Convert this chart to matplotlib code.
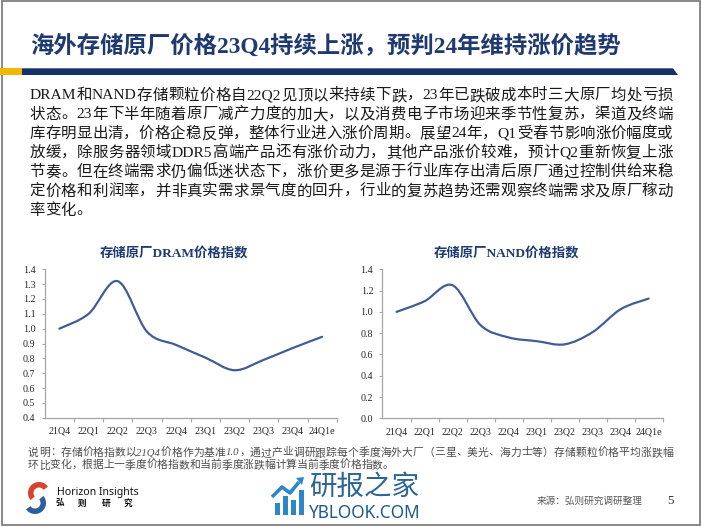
import re
import numpy as np
import matplotlib
matplotlib.use('Agg')
import matplotlib.pyplot as plt
from matplotlib.path import Path
from matplotlib.patches import PathPatch, Rectangle, Polygon, Wedge

# ---------------- data ----------------
categories = ['21Q4', '22Q1', '22Q2', '22Q3', '22Q4', '23Q1', '23Q2', '23Q3', '23Q4', '24Q1e']
dram_index = [1.00, 1.10, 1.32, 0.98, 0.89, 0.805, 0.72, 0.79, 0.87, 0.945]
nand_index = [1.00, 1.10, 1.25, 0.875, 0.76, 0.725, 0.695, 0.81, 1.025, 1.125]
dram_yticks = [0.4, 0.5, 0.6, 0.7, 0.8, 0.9, 1.0, 1.1, 1.2, 1.3, 1.4]
nand_yticks = [0.0, 0.2, 0.4, 0.6, 0.8, 1.0, 1.2, 1.4]

title_text = '海外存储原厂价格23Q4持续上涨，预判24年维持涨价趋势'
paragraph_lines = [
    'DRAM和NAND存储颗粒价格自22Q2见顶以来持续下跌，23年已跌破成本时三大原厂均处亏损',
    '状态。23年下半年随着原厂减产力度的加大，以及消费电子市场迎来季节性复苏，渠道及终端',
    '库存明显出清，价格企稳反弹，整体行业进入涨价周期。展望24年，Q1受春节影响涨价幅度或',
    '放缓，除服务器领域DDR5高端产品还有涨价动力，其他产品涨价较难，预计Q2重新恢复上涨',
    '节奏。但在终端需求仍偏低迷状态下，涨价更多是源于行业库存出清后原厂通过控制供给来稳',
    '定价格和利润率，并非真实需求景气度的回升，行业的复苏趋势还需观察终端需求及原厂稼动',
    '率变化。',
]
dram_title = '存储原厂DRAM价格指数'
nand_title = '存储原厂NAND价格指数'
footnote_lines = [
    '说明：存储价格指数以21Q4价格作为基准1.0，通过产业调研跟踪每个季度海外大厂（三星、美光、海力士等）存储颗粒价格平均涨跌幅',
    '环比变化，根据上一季度价格指数和当前季度涨跌幅计算当前季度价格指数。',
]
source_text = '来源：弘则研究调研整理'
page_number = '5'
logo_en = 'Horizon Insights'
logo_cn = ['弘', '则', '研', '究']
wm_cn = '研报之家'
wm_en = 'YBLOOK.COM'

# ---------------- style ----------------
W, H = 702, 527
SERIF = ['Liberation Serif', 'Noto Sans CJK SC']
SANS = ['Noto Sans CJK SC', 'DejaVu Sans']
NAVY = '#1F3A70'
LINE = '#405D95'
SPINE = '#A6A6A6'

fig = plt.figure(figsize=(W / 100, H / 100), dpi=100)
fig.patch.set_facecolor('white')
bg = fig.add_axes([0, 0, 1, 1])
bg.set_xlim(0, W)
bg.set_ylim(H, 0)
bg.axis('off')
renderer = fig.canvas.get_renderer()


def text_width(s, fs, **kw):
    t = bg.text(0, 0, s, fontsize=fs, **kw)
    w = t.get_window_extent(renderer).width
    t.remove()
    return w


def fit_size(s, target, fs0=10, **kw):
    return fs0 * target / text_width(s, fs0, **kw)


def place_line(s, x0, x1, y, fs, justify=True, **kw):
    tokens = re.findall(r'[A-Za-z0-9.]+|.', s)
    objs = [bg.text(0, y, t, fontsize=fs, va='center', ha='left', **kw) for t in tokens]
    widths = [o.get_window_extent(renderer).width for o in objs]
    gap = (x1 - x0 - sum(widths)) / (len(tokens) - 1) if (justify and len(tokens) > 1) else 0
    x = x0
    for o, w in zip(objs, widths):
        o.set_x(x)
        x += w + gap


# frame
bg.add_patch(Rectangle((1.5, 1.0), W - 4, H - 3, fill=False, edgecolor='#7F7F7F', lw=1.3))

# title + bar
tfs = fit_size(title_text, 590, 17, family=SERIF, weight='bold')
bg.text(30, 47, title_text, fontsize=tfs, family=SERIF, weight='bold', color=NAVY,
        va='center', ha='left')
bg.add_patch(Rectangle((0, 68.3), 22, 6.7, color='#F2B705', lw=0))
bg.add_patch(Polygon([(22, 68.3), (673, 68.3), (678, 75), (22, 75)], closed=True,
                     color='#16306A', lw=0))

# paragraph (justified)
pfs = min(fit_size(l, 643, 11, family=SERIF) for l in paragraph_lines[:-1]) * 0.99
for i, line in enumerate(paragraph_lines):
    place_line(line, 29.5, 673, 95.5 + 19.2 * i, pfs, justify=(i < len(paragraph_lines) - 1),
               family=SERIF, color='#1A1A1A')


# ---------------- charts ----------------
def smooth_path(xs, ys):
    pts = np.column_stack([xs, ys]).astype(float)
    n = len(pts)
    verts = [pts[0]]
    codes = [Path.MOVETO]
    for i in range(n - 1):
        p0 = pts[i - 1] if i > 0 else pts[i]
        p1 = pts[i]
        p2 = pts[i + 1]
        p3 = pts[i + 2] if i + 2 < n else pts[i + 1]
        c1 = p1 + (p2 - p0) / 6.0
        c2 = p2 - (p3 - p1) / 6.0
        verts += [c1, c2, p2]
        codes += [Path.CURVE4] * 3
    return Path(verts, codes)


def make_chart(x0, x1, ytop, ybot, values, yticks, ylim, title, title_x):
    ax = fig.add_axes([x0 / W, 1 - ybot / H, (x1 - x0) / W, (ybot - ytop) / H])
    ax.patch.set_alpha(0)
    xs = np.arange(len(categories))
    ax.add_patch(PathPatch(smooth_path(xs, values), fill=False, edgecolor=LINE, lw=1.6,
                           capstyle='round', joinstyle='round'))
    ax.set_xlim(-0.5, len(categories) - 0.5)
    ax.set_ylim(*ylim)
    ax.set_yticks(yticks)
    ax.set_yticklabels([f'{v:.1f}' for v in yticks])
    ax.set_xticks(np.arange(0.5, len(categories), 1.0))
    ax.set_xticklabels([])
    ax.set_xticks(xs, minor=True)
    ax.set_xticklabels(categories, minor=True)
    ax.tick_params(axis='x', which='minor', length=0, pad=6.3, labelsize=7.2,
                   labelcolor='#262626')
    ax.tick_params(axis='x', which='major', length=3, width=0.8, color=SPINE, direction='out')
    ax.tick_params(axis='y', length=2.5, width=0.8, color=SPINE, pad=4.2, labelsize=7.2,
                   labelcolor='#262626', direction='out')
    for lab in ax.get_xticklabels(minor=True) + ax.get_yticklabels():
        lab.set_family(SERIF)
    for s in ['top', 'right']:
        ax.spines[s].set_visible(False)
    for s in ['left', 'bottom']:
        ax.spines[s].set_color(SPINE)
        ax.spines[s].set_linewidth(0.9)
    bg.text(title_x, 253, title, fontsize=9.6, family=SERIF, weight='bold', color=NAVY,
            ha='center', va='center')
    return ax


make_chart(44.8, 336.7, 269.3, 417.7, dram_index, dram_yticks, (0.4, 1.4), dram_title, 174)
make_chart(382.5, 662.7, 269.3, 418.3, nand_index, nand_yticks, (0.0, 1.4), nand_title, 506)

# ---------------- footnote ----------------
ffs = fit_size(footnote_lines[0], 645, 8, family=SERIF, style='italic')
place_line(footnote_lines[0], 28, 673, 452.7, ffs, justify=True, family=SERIF,
           style='italic', color='#4D4D4D')
place_line(footnote_lines[1], 28, 673, 465.2, ffs, justify=False, family=SERIF,
           style='italic', color='#4D4D4D')

# ---------------- logo (bottom left) ----------------
bg.add_patch(Wedge((39, 493), 11, 140, 325, width=5.5, color='#D8432A', lw=0))
bg.add_patch(Wedge((35, 503), 11, -40, 145, width=5.5, color='#2D5E9E', lw=0))
bg.text(57, 492, logo_en, fontsize=7.6, family=['Noto Sans', 'DejaVu Sans'], weight='bold',
        color='#111111', ha='left', va='center')
for ch, xx in zip(logo_cn, [60, 82, 106, 128]):
    bg.text(xx, 503, ch, fontsize=6.2, family=SANS, weight='bold', color='#111111',
            ha='center', va='center')

# ---------------- watermark ----------------
WM = '#2E86C8'
for bx, btop in zip([274.5, 282.5, 290.5, 298.5], [503, 496, 500, 490]):
    bg.add_patch(Rectangle((bx, btop), 5, 515 - btop, color=WM, lw=0))
bg.plot([272, 282, 290, 299], [497, 487, 493, 482], color=WM, lw=2.6,
        solid_capstyle='butt')
bg.add_patch(Polygon([(296, 478), (304, 477), (302, 485)], closed=True, color=WM, lw=0))
wfs = fit_size(wm_cn, 110, 18, family=SANS)
bg.text(309, 487, wm_cn, fontsize=wfs, family=SANS, color='#2B6496', ha='left',
        va='center')
efs = fit_size(wm_en, 112, 11, family=['Noto Sans', 'DejaVu Sans'])
bg.text(309, 513, wm_en, fontsize=efs, family=['Noto Sans', 'DejaVu Sans'], color='#1F5A8C',
        ha='left', va='center')

# ---------------- source ----------------
sfs = fit_size(source_text, 106, 8, family=SERIF)
bg.text(537, 501, source_text, fontsize=sfs, family=SERIF, color='#595959',
        ha='left', va='center')
bg.text(667, 501, page_number, fontsize=9.5, family=SERIF, color='#333333',
        ha='left', va='center')

fig.savefig('out.png', dpi=100)
